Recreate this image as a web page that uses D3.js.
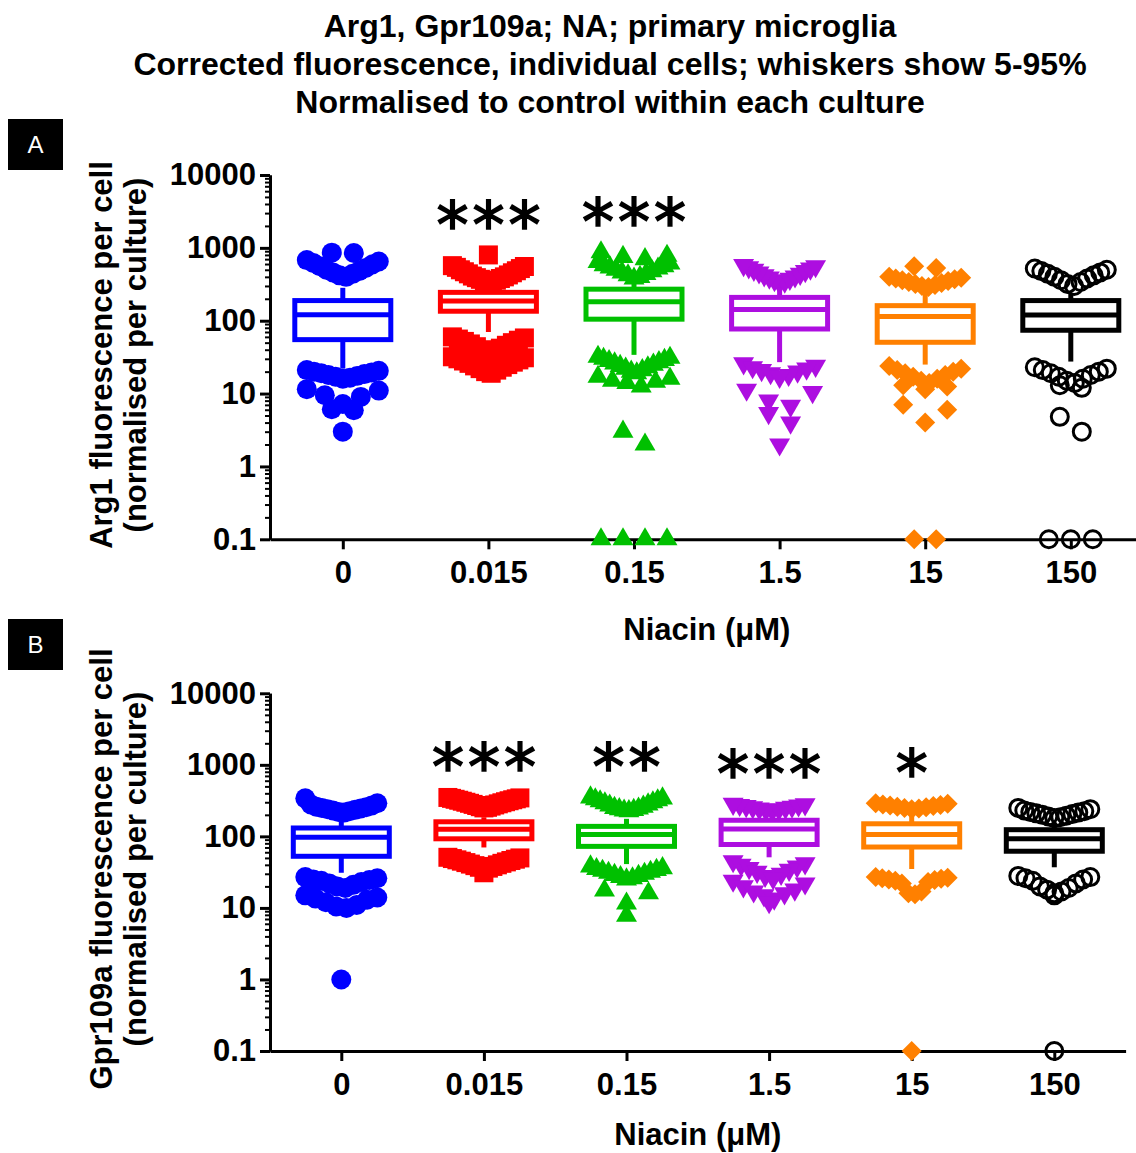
<!DOCTYPE html>
<html>
  <head>
    <meta charset="utf-8">
    <title>Arg1, Gpr109a; NA; primary microglia</title>
    <script src="https://cdn.jsdelivr.net/npm/d3@7"></script>
    <style>
      body { margin: 0; background: #fff; }
      svg { display: block; font-family: "Liberation Sans", Arial, sans-serif; }
      .axis path, .axis line { stroke: #000; stroke-width: 3px; }
      .axis.minor line { stroke-width: 2px; }
      .axis text { font-size: 31px; font-weight: bold; fill: #000; font-family: "Liberation Sans", Arial, sans-serif; }
      .title { font-size: 32px; font-weight: bold; text-anchor: middle; }
      .axisTitle { font-size: 31px; font-weight: bold; text-anchor: middle; }
      .star { font-family: "DejaVu Sans", sans-serif; font-size: 64px; text-anchor: middle; stroke: #000; stroke-width: 1.6px; }
    </style>
  </head>
  <body>
    <svg id="chart" width="1136" height="1153"></svg>
    <script>
      // categories and shared styling
      var doses = ["0", "0.015", "0.15", "1.5", "15", "150"];
      var colours = ["#0000ff", "#ff0000", "#00c000", "#ad0ee0", "#ff8000", "#000000"];
      var shapes = ["circle", "square", "triangle", "triangleDown", "diamond", "openCircle"];
      var yTicks = [0.1, 1, 10, 100, 1000, 10000];
      var titleLines = [
        "Arg1, Gpr109a; NA; primary microglia",
        "Corrected fluorescence, individual cells; whiskers show 5-95%",
        "Normalised to control within each culture"
      ];

      // panel A: Arg1. box = [5th pct, Q1, median, Q3, 95th pct]
      var arg1Boxes = [
        [22, 55, 121, 189, 283],
        [70, 135, 186, 245, 300],
        [34, 105, 182, 271, 330],
        [27, 77, 142, 209, 283],
        [25, 50.6, 114, 161, 240],
        [27.5, 74, 120, 189, 240]
      ];
      // cells outside the whiskers (0 = at or below the axis minimum)
      var arg1Outliers = [
        [850, 860, 400, 420, 440, 460, 480, 500, 530, 560, 590, 620, 650, 680,
         21, 20.5, 20, 19.5, 19, 18.5, 18, 17.5, 17, 16.5, 16, 11.5, 11, 9.5, 9, 7.2, 6.1, 5.9, 3],
        [330, 340, 350, 360, 370, 380, 390, 400, 410, 425, 440, 455, 470, 485, 500, 520, 540, 555, 570, 800,
         60, 58, 56, 54, 52, 50, 48, 46, 44, 42, 40, 38, 36,
         32, 31, 30, 29, 28, 27, 26, 25, 24, 23, 22, 21, 20, 19],
        [380, 400, 420, 440, 460, 480, 500, 520, 540, 560, 580, 610, 640, 700, 750, 780, 870,
         32, 31, 30, 29, 28, 27, 26, 25, 24, 23, 22, 21, 20, 19, 17, 16, 15, 14.5, 14, 12.5, 3, 2, 0, 0, 0, 0],
        [330, 345, 360, 375, 390, 405, 420, 440, 460, 480, 500, 520, 540, 560, 580,
         26, 24, 23, 22, 21, 20, 19, 18, 17, 11.3, 10.5, 8, 6.8, 5.4, 4, 2],
        [290, 300, 310, 320, 330, 340, 350, 360, 370, 380, 390, 400, 530, 560,
         24, 22, 21, 20, 19, 18, 17, 16, 15, 14, 13, 12.5, 11.5, 7, 6, 4, 0, 0],
        [300, 320, 340, 360, 380, 400, 420, 440, 460, 480, 500, 520,
         23, 22, 21, 20, 19, 18, 17, 16, 15, 14, 13, 12, 4.8, 3, 0, 0, 0]
      ];
      var arg1Stars = ["", "***", "***", "", "", ""];

      // panel B: Gpr109a
      var gprBoxes = [
        [31, 52.7, 97, 131, 208],
        [70, 92.5, 126, 160, 185],
        [41, 72.5, 106, 138, 176],
        [51, 77, 127, 168, 175],
        [35, 71, 106, 150, 195],
        [37, 62, 93, 124, 157]
      ];
      var gprOutliers = [
        [215, 220, 225, 230, 235, 240, 245, 250, 255, 260, 270, 280, 290, 340,
         27, 26, 25, 24.5, 24, 23, 22, 21, 20, 19, 15, 14, 13.5, 13, 12, 11, 10.5, 10, 1],
        [250, 255, 260, 265, 270, 275, 280, 285, 290, 295, 300, 305, 310, 315, 320, 325, 330, 335, 340, 345, 350,
         51, 50, 49, 48, 47, 46, 45, 44, 43, 42, 41, 40, 39, 38, 37, 36, 31],
        [225, 230, 235, 240, 245, 250, 260, 270, 280, 290, 300, 310, 320, 330, 340, 350,
         38, 36, 35, 34, 33, 32, 31, 30, 29, 28, 27, 26, 25, 17.5, 16, 11.5, 7.8],
        [230, 235, 240, 245, 250, 255, 260, 265, 270, 275, 280, 285,
         45, 42, 40, 38, 36, 34, 32, 30, 28, 26, 24, 22, 20, 18, 17, 16, 15, 13.5, 12],
        [240, 245, 250, 255, 260, 265, 270, 275, 280, 285, 290,
         27, 26.5, 26, 25.5, 25, 24.5, 24, 23, 22, 17, 16, 15.5, 0],
        [180, 185, 190, 195, 200, 205, 210, 215, 220, 225, 230, 240, 250,
         28, 27, 26, 25, 24, 22, 20, 19, 18, 17, 16, 15, 0]
      ];
      var gprStars = ["", "***", "**", "***", "*", ""];

      // page elements
      var svg = d3.select("#chart");
      var binH = 18, spacing = 22, maxSpread = 72, boxHalf = 48;

      svg.selectAll(".title")
        .data(titleLines)
        .enter()
        .append("text")
          .attr("class", "title")
          .attr("x", 610)
          .attr("y", function(d, i) { return 36.5 + i * 38; })
          .text(function(d) { return d; });

      drawPanel({
        label: "A", labelY: 119, top: 175, bottom: 539.3, right: 1143.6,
        yTitle: ["Arg1 fluorescence per cell", "(normalised per culture)"], yTitleMid: 355,
        xTitleY: 640, boxes: arg1Boxes, outliers: arg1Outliers, stars: arg1Stars
      });
      drawPanel({
        label: "B", labelY: 619, top: 693.3, bottom: 1051, right: 1125.6,
        yTitle: ["Gpr109a fluorescence per cell", "(normalised per culture)"], yTitleMid: 869,
        xTitleY: 1145, boxes: gprBoxes, outliers: gprOutliers, stars: gprStars
      });

      function symbolPath(shape) {
        if (shape == "circle") return d3.symbol(d3.symbolCircle, 314)();
        if (shape == "square") return d3.symbol(d3.symbolSquare, 361)();
        if (shape == "diamond") return d3.symbol(d3.symbolSquare, 200)();
        if (shape == "openCircle") return d3.symbol(d3.symbolCircle, 227)();
        return d3.symbol(d3.symbolTriangle, 190)();
      }
      function symbolRotate(shape) {
        return shape == "triangleDown" ? 180 : shape == "diamond" ? 45 : 0;
      }

      // spread cells sideways, row by row, lowest value in the middle
      function layoutPoints(values, median, y, cx) {
        var pts = values.map(function(v) { return { v: v, py: y(Math.max(v, 0.1)) }; });
        var above = pts.filter(function(d) { return d.v > median; })
          .sort(function(a, b) { return a.v - b.v; });
        var below = pts.filter(function(d) { return d.v <= median; })
          .sort(function(a, b) { return b.v - a.v; });
        var bins = [];
        [above, below].forEach(function(list) {
          var bin = null;
          list.forEach(function(p) {
            if (!bin || Math.abs(p.py - bin.start) > binH) {
              bin = { start: p.py, pts: [] };
              bins.push(bin);
            }
            bin.pts.push(p);
          });
        });
        bins.forEach(function(bin) {
          var n = bin.pts.length;
          var s = n > 1 ? Math.min(spacing, maxSpread / (n - 1)) : 0;
          var offs = d3.range(n).map(function(k) { return (k - (n - 1) / 2) * s; })
            .sort(function(a, b) { return Math.abs(a) - Math.abs(b) || b - a; });
          bin.pts.sort(function(a, b) { return a.v - b.v; })
            .forEach(function(p, k) { p.px = cx + offs[k]; });
        });
        return pts;
      }

      function drawPanel(cfg) {
        var g = svg.append("g");
        var x = d3.scalePoint().domain(doses).range([270, cfg.right]).padding(0.5);
        var y = d3.scaleLog().domain([0.1, 10000]).range([cfg.bottom, cfg.top]);

        // panel letter
        g.append("rect")
          .attr("x", 8).attr("y", cfg.labelY).attr("width", 55).attr("height", 51)
          .attr("fill", "#000");
        g.append("text")
          .attr("x", 35.5).attr("y", cfg.labelY + 34)
          .attr("fill", "#fff")
          .attr("text-anchor", "middle")
          .style("font-size", "24px")
          .text(cfg.label);

        // axes
        var minors = [];
        yTicks.slice(0, -1).forEach(function(t) {
          for (var k = 2; k < 10; k++) minors.push(t * k);
        });
        g.append("g")
          .attr("class", "axis minor")
          .attr("transform", "translate(270, 0)")
          .call(d3.axisLeft(y).tickValues(minors).tickSize(5).tickSizeOuter(0).tickFormat(""));
        g.append("g")
          .attr("class", "axis")
          .attr("transform", "translate(270, 0)")
          .call(d3.axisLeft(y).tickValues(yTicks).tickSize(10).tickSizeOuter(0).tickPadding(4)
            .tickFormat(function(d) { return String(d); }));
        g.append("g")
          .attr("class", "axis")
          .attr("transform", "translate(0, " + cfg.bottom + ")")
          .call(d3.axisBottom(x).tickSize(10).tickSizeOuter(0).tickPadding(12));

        // axis titles
        var yt = g.append("text")
          .attr("class", "axisTitle")
          .attr("transform", "translate(0, " + cfg.yTitleMid + ") rotate(-90)");
        yt.append("tspan").attr("x", 0).attr("y", 112).text(cfg.yTitle[0]);
        yt.append("tspan").attr("x", 0).attr("y", 146).text(cfg.yTitle[1]);
        g.append("text")
          .attr("class", "axisTitle")
          .attr("x", (270 + cfg.right) / 2)
          .attr("y", cfg.xTitleY)
          .text("Niacin (\u03bcM)");

        // groups
        doses.forEach(function(dose, i) {
          var cx = x(dose);
          var col = colours[i];
          var shape = shapes[i];
          var b = cfg.boxes[i];
          var pts = layoutPoints(cfg.outliers[i], b[2], y, cx);
          var open = shape == "openCircle";

          g.append("g")
            .selectAll("path")
            .data(pts)
            .enter()
            .append("path")
              .attr("d", symbolPath(shape))
              .attr("transform", function(d) {
                return "translate(" + d.px + "," + d.py + ") rotate(" + symbolRotate(shape) + ")";
              })
              .attr("fill", open ? "none" : col)
              .attr("stroke", open ? col : "none")
              .attr("stroke-width", open ? 3 : 0);

          var bg = g.append("g")
            .attr("stroke", col)
            .attr("stroke-width", 5)
            .attr("fill", "none");
          [[b[3], b[4]], [b[1], b[0]]].forEach(function(w) {
            bg.append("line")
              .attr("x1", cx).attr("x2", cx)
              .attr("y1", y(w[0])).attr("y2", y(w[1]));
          });
          bg.append("rect")
            .attr("x", cx - boxHalf)
            .attr("width", boxHalf * 2)
            .attr("y", y(b[3]))
            .attr("height", y(b[1]) - y(b[3]))
            .attr("fill", "#fff");
          bg.append("line")
            .attr("x1", cx - boxHalf).attr("x2", cx + boxHalf)
            .attr("y1", y(b[2])).attr("y2", y(b[2]));

          // significance stars above the highest cell
          var s = cfg.stars[i];
          if (s) {
            var yc = y(d3.max(cfg.outliers[i])) - 44;
            for (var k = 0; k < s.length; k++) {
              g.append("text")
                .attr("class", "star")
                .attr("x", cx + (k - (s.length - 1) / 2) * 36)
                .attr("y", yc + 36)
                .text("*");
            }
          }
        });
      }
    </script>
  </body>
</html>
